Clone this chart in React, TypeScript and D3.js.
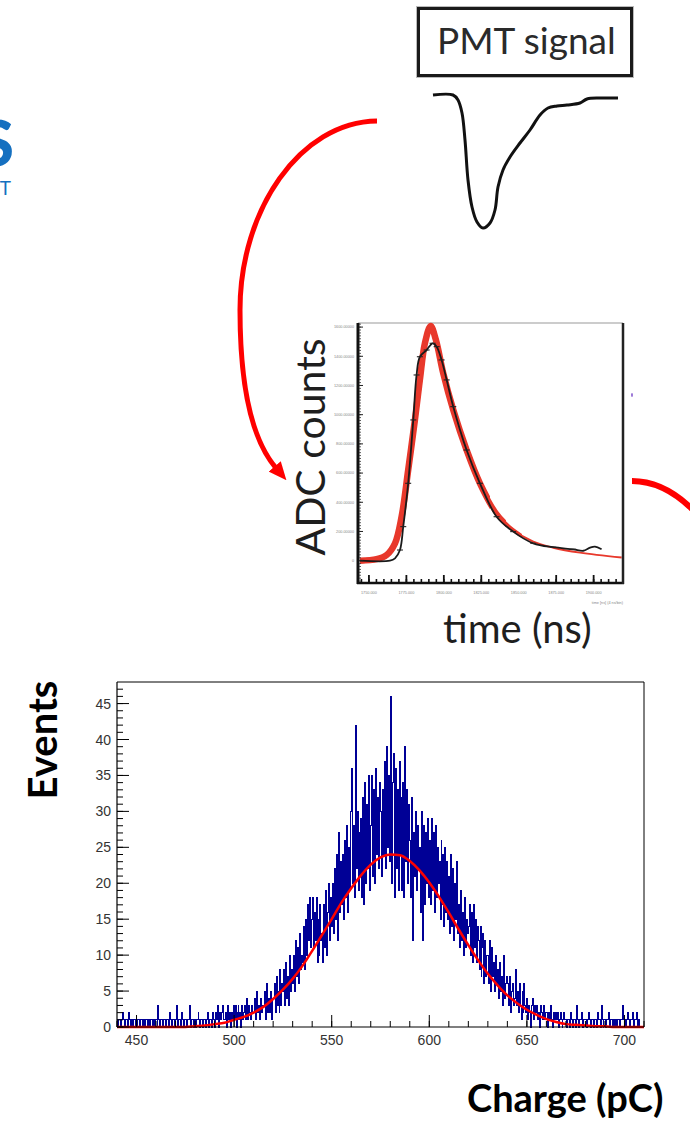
import React from 'react';
import * as d3 from 'd3';

// charge spectrum, counts per 0.5 pC bin from 440 pC to 710 pC (one row = 5 pC)
const CHARGE_MIN = 440;
const CHARGE_MAX = 710;
const BIN_WIDTH = 0.5;
const eventCounts = [
  1, 0, 1, 1, 0, 1, 2, 1, 0, 1,
  1, 0, 2, 1, 0, 1, 0, 1, 1, 0,
  0, 1, 1, 0, 1, 1, 0, 1, 0, 1,
  1, 0, 1, 0, 1, 1, 0, 1, 0, 1,
  1, 0, 3, 1, 0, 1, 1, 0, 1, 1,
  0, 1, 1, 0, 2, 1, 0, 1, 1, 0,
  1, 3, 0, 1, 1, 0, 2, 1, 0, 1,
  1, 0, 1, 1, 3, 0, 1, 1, 0, 1,
  0, 1, 1, 2, 1, 0, 1, 1, 0, 1,
  1, 0, 1, 2, 0, 1, 1, 0, 2, 1,
  0, 2, 1, 3, 0, 2, 1, 2, 3, 1,
  1, 2, 0, 3, 1, 2, 0, 2, 1, 3,
  1, 3, 0, 2, 3, 1, 2, 0, 3, 1,
  2, 3, 1, 4, 1, 3, 2, 1, 3, 2,
  2, 4, 1, 5, 2, 3, 1, 4, 2, 3,
  3, 5, 1, 6, 2, 4, 2, 5, 1, 4,
  4, 6, 2, 7, 3, 5, 2, 8, 3, 6,
  5, 8, 3, 9, 4, 7, 3, 10, 5, 8,
  6, 10, 5, 12, 7, 11, 6, 13, 8, 10,
  9, 14, 8, 15, 10, 17, 12, 18, 11, 15,
  18, 11, 16, 12, 18, 9, 15, 10, 17, 12,
  13, 9, 17, 11, 19, 10, 16, 20, 12, 18,
  14, 20, 13, 22, 15, 24, 12, 27, 16, 23,
  17, 24, 15, 26, 18, 28, 16, 25, 19, 30,
  36, 20, 28, 18, 42, 22, 30, 19, 27, 21,
  29, 18, 32, 17, 34, 20, 31, 22, 35, 19,
  28, 35, 21, 33, 20, 36, 24, 32, 22, 34,
  30, 21, 33, 24, 37, 22, 39, 25, 35, 23,
  46, 20, 34, 38, 18, 36, 22, 33, 19, 37,
  24, 32, 19, 34, 18, 39, 23, 33, 20, 31,
  26, 18, 32, 12, 27, 21, 30, 19, 28, 22,
  25, 16, 30, 12, 28, 17, 27, 20, 29, 18,
  26, 17, 29, 19, 27, 16, 28, 18, 25, 20,
  23, 15, 26, 17, 24, 14, 25, 16, 23, 15,
  21, 13, 24, 14, 22, 12, 20, 15, 23, 13,
  17, 11, 19, 12, 16, 10, 18, 11, 15, 13,
  14, 17, 10, 16, 9, 17, 11, 15, 9, 14,
  12, 8, 14, 7, 11, 13, 6, 12, 7, 10,
  10, 6, 12, 5, 11, 7, 9, 5, 10, 6,
  8, 4, 9, 5, 7, 3, 10, 4, 6, 7,
  6, 3, 7, 2, 5, 6, 3, 4, 8, 3,
  5, 2, 6, 3, 1, 5, 2, 6, 3, 2,
  4, 1, 3, 2, 0, 3, 4, 1, 3, 2,
  3, 1, 2, 0, 3, 2, 1, 3, 1, 2,
  2, 0, 2, 1, 3, 1, 0, 2, 1, 2,
  1, 2, 0, 1, 2, 1, 0, 1, 2, 1,
  1, 0, 1, 1, 0, 2, 1, 0, 1, 1,
  0, 3, 1, 0, 1, 1, 2, 0, 1, 1,
  1, 0, 1, 2, 1, 0, 1, 1, 0, 1,
  1, 0, 2, 1, 1, 0, 3, 1, 0, 1,
  1, 0, 1, 1, 2, 0, 1, 1, 0, 1,
  0, 1, 0, 1, 1, 0, 1, 1, 3, 1,
  1, 0, 1, 2, 1, 0, 1, 1, 2, 0,
  1, 1, 2, 0, 1, 0, 0, 0, 0, 0,
];

// red gaussian fit, read every 5 pC
const fitCharge = [
  440, 445, 450, 455, 460, 465, 470, 475, 480, 485, 490, 495, 500, 505, 510, 515, 520, 525, 530,
  535, 540, 545, 550, 555, 560, 565, 570, 575, 580, 585, 590, 595, 600, 605, 610, 615, 620, 625,
  630, 635, 640, 645, 650, 655, 660, 665, 670, 675, 680, 685, 690, 695, 700, 705, 710,
];
const fitEvents = [
  0, 0, 0, 0, 0, 0, 0, 0, 0.1, 0.2, 0.4, 0.6, 1.0, 1.4, 2.0, 2.8, 3.9, 5.2, 6.7,
  8.5, 10.6, 12.8, 15.0, 17.3, 19.3, 21.1, 22.6, 23.6, 24.0, 23.9, 23.1, 21.8, 20.1, 18.1, 15.9, 13.6, 11.4, 9.3,
  7.4, 5.8, 4.4, 3.3, 2.4, 1.7, 1.1, 0.7, 0.4, 0.3, 0.2, 0.1, 0.1, 0, 0, 0, 0,
];

const chargeTicks = [450, 500, 550, 600, 650, 700];
const eventTicks = [0, 5, 10, 15, 20, 25, 30, 35, 40, 45];

// fitted ADC pulse (inset)
const adcFitTime = [-6, 5.1, 11.8, 17.4, 21.8, 26.2, 30.7, 34.0, 37.4, 41.2, 44.7, 49.6, 56.3, 65.2, 74.1, 85.2, 96.3, 109.7, 123.0, 140.9, 168.7];
const adcFitCounts = [0, 10, 39, 119, 301, 621, 964, 1238, 1491, 1607, 1512, 1284, 1032, 758, 530, 325, 210, 130, 89, 55, 21];
const adcDataTime = [-6, 14.0, 17.4, 20.7, 22.9, 26.2, 29.6, 31.8, 34.0, 38.5, 42.5, 45.2, 48.5, 51.9, 56.3, 65.2, 74.1, 85.2, 96.3, 109.7, 123.0, 136.4, 143.1, 147.6, 150.9, 155.3];
const adcDataCounts = [0, 0, 16, 73, 233, 530, 964, 1272, 1397, 1443, 1489, 1466, 1375, 1238, 1055, 758, 530, 301, 199, 119, 92, 78, 68, 89, 96, 78];
const adcTimeTicks = [0, 25, 50, 75, 100, 125, 150];
const adcCountTicks = [0, 200, 400, 600, 800, 1000, 1200, 1400, 1600];

// raw PMT pulse sketch
const pmtTime = [0, 20, 25, 29, 32, 35, 39, 44, 50, 57, 62, 65, 70, 77, 87, 97, 107, 115, 124, 134, 147, 154, 167, 185];
const pmtAmp = [0, 0, -5, -18, -45, -85, -112, -127, -133, -128, -115, -92, -75, -62, -48, -35, -20, -13, -11, -10, -8, -4, -3, -3];

const SANS = "Lato, 'Open Sans', 'DejaVu Sans', sans-serif";
const ROOT_FONT = "'Liberation Sans', Arial, sans-serif";

export default function App() {
  // ---- main charge histogram
  const x = d3.scaleLinear().domain([CHARGE_MIN, CHARGE_MAX]).range([117, 644]);
  const y = d3.scaleLinear().domain([0, 48]).range([1027, 682]);

  const histPts: [number, number][] = [[CHARGE_MIN, 0]];
  eventCounts.forEach((c, i) => histPts.push([CHARGE_MIN + i * BIN_WIDTH, c]));
  histPts.push([CHARGE_MAX, 0]);
  const histPath = d3.line<[number, number]>()
    .x(d => x(d[0]))
    .y(d => y(d[1]))
    .curve(d3.curveStepAfter)(histPts);

  const fitPath = d3.line<number>()
    .x((d, i) => x(fitCharge[i]))
    .y(d => y(d))
    .curve(d3.curveMonotoneX)(fitEvents);

  const xMinor = x.ticks(27);
  const yMinor = y.ticks(48).filter(v => v <= 47);

  // ---- inset ADC plot
  const ix = d3.scaleLinear().domain([-7.3, 169.6]).range([358, 623]);
  const iy = d3.scaleLinear().domain([-153, 1628]).range([583, 323]);
  const redPath = d3.line<number>()
    .x((d, i) => ix(adcFitTime[i]))
    .y(d => iy(d))
    .curve(d3.curveCatmullRom)(adcFitCounts);
  const blackPath = d3.line<number>()
    .x((d, i) => ix(adcDataTime[i]))
    .y(d => iy(d))
    .curve(d3.curveCatmullRom)(adcDataCounts);
  const insetXMinor = d3.range(-5, 170, 5);
  const insetYMinor = d3.range(-140, 1628, 20);

  // ---- PMT pulse
  const px = d3.scaleLinear().domain([0, 185]).range([433, 618]);
  const py = d3.scaleLinear().domain([0, -133]).range([95, 228]);
  const pmtPath = d3.line<number>()
    .x((d, i) => px(pmtTime[i]))
    .y(d => py(d))
    .curve(d3.curveCatmullRom)(pmtAmp);

  // the fit line in the inset gets thinner along the tail
  const taper = [
    { id: 'taperA', right: 490, width: 6.5 },
    { id: 'taperB', right: 506, width: 5 },
    { id: 'taperC', right: 522, width: 3.5 },
  ];

  return (
    <svg width={690} height={1122} style={{ position: 'absolute', left: 0, top: 0, display: 'block', background: '#fff' }}>
      <defs>
        <marker id="arrowHead" markerUnits="userSpaceOnUse" viewBox="0 0 18 16"
          markerWidth={18} markerHeight={16} refX={2} refY={8} orient="auto">
          <path d="M0,0 L18,8 L0,16 z" fill="#ff0000" />
        </marker>
        {taper.map(t => (
          <clipPath key={t.id} id={t.id}>
            <rect x={340} y={300} width={t.right - 340} height={300} />
          </clipPath>
        ))}
      </defs>

      {/* cut logo at the left edge */}
      <text x={14} y={166} textAnchor="end" fontFamily={SANS} fontWeight={900} fontSize={62} fill="#1570c0">S</text>
      <text x={11} y={195} textAnchor="end" fontFamily={SANS} fontSize={19} fill="#1570c0">T</text>

      {/* PMT signal box */}
      <rect x={418.5} y={8.5} width={213} height={67} fill="#fff" stroke="#bbb" strokeWidth={5} />
      <rect x={418.5} y={8.5} width={213} height={67} fill="#fff" stroke="#1a1a1a" strokeWidth={3} />
      <text x={437} y={54} fontFamily={SANS} fontSize={37} fill="#2a2a2a">PMT signal</text>
      <path d={pmtPath || ''} fill="none" stroke="#111" strokeWidth={3} strokeLinejoin="round" />

      {/* arrows */}
      <path d="M377,121 C300,122 240,210 240,310 C240,390 252,440 276,468" fill="none"
        stroke="#ff0000" strokeWidth={5} markerEnd="url(#arrowHead)" />
      <path d="M632,481 C655,481 676,492 696,513" fill="none" stroke="#ff0000" strokeWidth={6} />
      <ellipse cx={632} cy={395} rx={0.9} ry={2} fill="#8a5fd0" />

      {/* inset ADC plot */}
      <g>
        <line x1={358} x2={623} y1={323} y2={323} stroke="#999" strokeWidth={1} />
        {taper.map(t => (
          <path key={t.id} d={redPath || ''} fill="none" stroke="#e8392c" strokeWidth={t.width}
            strokeLinejoin="round" clipPath={`url(#${t.id})`} />
        ))}
        <path d={redPath || ''} fill="none" stroke="#e8392c" strokeWidth={2} />
        <path d={blackPath || ''} fill="none" stroke="#1a1a1a" strokeWidth={1.8} />
        {adcDataTime.slice(3, 22).map((t, i) => (
          <line key={i} x1={ix(t) - 3} x2={ix(t) + 3} y1={iy(adcDataCounts[i + 3])} y2={iy(adcDataCounts[i + 3])}
            stroke="#222" strokeWidth={1.1} />
        ))}
        <line x1={358} x2={358} y1={323} y2={584} stroke="#111" strokeWidth={3} />
        <line x1={357} x2={624} y1={583} y2={583} stroke="#111" strokeWidth={2.5} />
        <line x1={623} x2={623} y1={323} y2={584} stroke="#222" strokeWidth={2.5} />
        {insetYMinor.map(v => (
          <line key={'iym' + v} x1={359} x2={361} y1={iy(v)} y2={iy(v)} stroke="#333" strokeWidth={0.8} />
        ))}
        {adcCountTicks.map(v => (
          <g key={'iy' + v}>
            <line x1={359} x2={363} y1={iy(v)} y2={iy(v)} stroke="#222" strokeWidth={1} />
            <text x={354} y={iy(v) + 1.3} textAnchor="end" fontFamily={ROOT_FONT} fontSize={3.8} fill="#888">
              {v === 0 ? '0' : v.toFixed(5)}
            </text>
          </g>
        ))}
        {insetXMinor.map(v => (
          <line key={'ixm' + v} x1={ix(v)} x2={ix(v)} y1={583} y2={579} stroke="#111" strokeWidth={1.6} />
        ))}
        {adcTimeTicks.map(v => (
          <g key={'ix' + v}>
            <line x1={ix(v)} x2={ix(v)} y1={583} y2={575} stroke="#111" strokeWidth={1.8} />
            <text x={ix(v)} y={594} textAnchor="middle" fontFamily={ROOT_FONT} fontSize={3.8} fill="#888">
              {(1750 + v).toFixed(3)}
            </text>
          </g>
        ))}
        <text x={623} y={604} textAnchor="end" fontFamily={ROOT_FONT} fontSize={3.8} fill="#888">time    [ns] (4 ns/bin)</text>
      </g>
      <text transform="translate(325,447) rotate(-90)" textAnchor="middle" fontFamily={SANS} fontSize={41} fill="#1e1e1e">ADC counts</text>
      <text x={443} y={643} fontFamily={SANS} fontSize={40} fill="#1e1e1e">time (ns)</text>

      {/* charge histogram */}
      <g>
        <path d={histPath || ''} fill="none" stroke="#000096" strokeWidth={1} shapeRendering="crispEdges" />
        <path d={fitPath || ''} fill="none" stroke="#ff0000" strokeWidth={2.5} />
        <line x1={117} x2={644} y1={682} y2={682} stroke="#000" strokeWidth={1} />
        <line x1={644} x2={644} y1={682} y2={1027} stroke="#000" strokeWidth={1} />
        <line x1={117} x2={117} y1={682} y2={1027} stroke="#000" strokeWidth={1.2} />
        <line x1={117} x2={644} y1={1027} y2={1027} stroke="#000" strokeWidth={1.2} />
        {yMinor.map(v => (
          <line key={'ym' + v} x1={117} x2={123} y1={y(v)} y2={y(v)} stroke="#000" strokeWidth={1} />
        ))}
        {eventTicks.map(v => (
          <g key={'y' + v}>
            <line x1={117} x2={129} y1={y(v)} y2={y(v)} stroke="#000" strokeWidth={1} />
            <text x={111} y={y(v) + 5} textAnchor="end" fontFamily={ROOT_FONT} fontSize={14} fill="#333">{v}</text>
          </g>
        ))}
        {xMinor.map(v => (
          <line key={'xm' + v} x1={x(v)} x2={x(v)} y1={1027} y2={1021} stroke="#000" strokeWidth={1} />
        ))}
        {chargeTicks.map(v => (
          <g key={'x' + v}>
            <line x1={x(v)} x2={x(v)} y1={1027} y2={1015} stroke="#000" strokeWidth={1} />
            <text x={x(v)} y={1045} textAnchor="middle" fontFamily={ROOT_FONT} fontSize={14} fill="#333">{v}</text>
          </g>
        ))}
      </g>
      <text transform="translate(57,740) rotate(-90)" textAnchor="middle" fontFamily={SANS} fontWeight={700} fontSize={40} fill="#000">Events</text>
      <text x={467} y={1112} fontFamily={SANS} fontWeight={700} fontSize={38} fill="#000">Charge (pC)</text>
    </svg>
  );
}
